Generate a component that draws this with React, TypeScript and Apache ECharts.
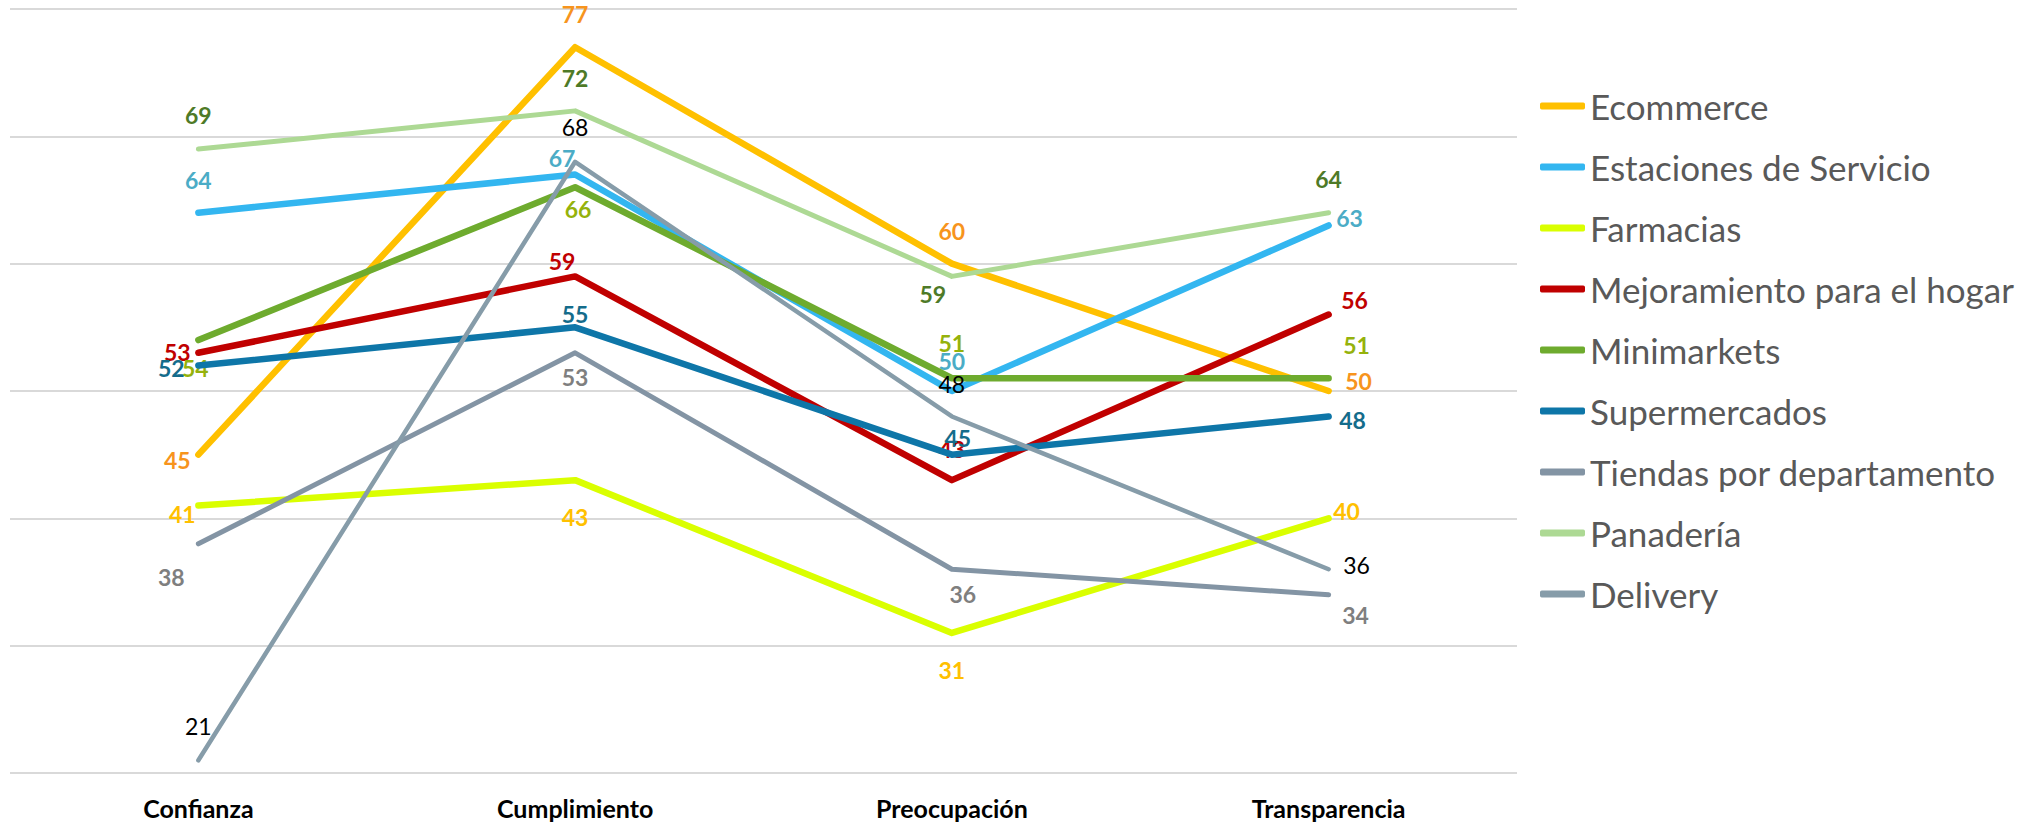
import React, { useEffect, useRef } from "react";
import * as echarts from "echarts";

const categories = ["Confianza", "Cumplimiento", "Preocupación", "Transparencia"];

const seriesNames = [
  "Ecommerce",
  "Estaciones de Servicio",
  "Farmacias",
  "Mejoramiento para el hogar",
  "Minimarkets",
  "Supermercados",
  "Tiendas por departamento",
  "Panadería",
  "Delivery",
];

const ecommerce = [45, 77, 60, 50];
const estaciones = [64, 67, 50, 63];
const farmacias = [41, 43, 31, 40];
const mejoramiento = [53, 59, 43, 56];
const minimarkets = [54, 66, 51, 51];
const supermercados = [52, 55, 45, 48];
const tiendas = [38, 53, 36, 34];
const panaderia = [69, 72, 59, 64];
const delivery = [21, 68, 48, 36];

const seriesValues = [
  ecommerce,
  estaciones,
  farmacias,
  mejoramiento,
  minimarkets,
  supermercados,
  tiendas,
  panaderia,
  delivery,
];

// styling (not data)
const lineColors = [
  "#FFC000",
  "#33B6F0",
  "#DAFF00",
  "#C00000",
  "#6EAB2E",
  "#0E76A8",
  "#8394A4",
  "#ADD994",
  "#869CA9",
];
const lineWidths = [6.5, 6.5, 6.5, 6.5, 6.5, 6.5, 5, 5, 4.5];
const labelColors = [
  "#F7941D",
  "#4BACC6",
  "#FFC000",
  "#C00000",
  "#95B20C",
  "#146C8B",
  "#7F7F7F",
  "#4E7A27",
  "#000000",
];
const labelWeights = ["bold", "bold", "bold", "bold", "bold", "bold", "bold", "bold", "normal"];

// label offsets [dx, dy] relative to the point, per series per category
const labelOffsets = [
  [[-21, 5], [0, -33], [0, -33], [30, -10]],
  [[0, -33], [-13, -17], [0, -30], [21, -7]],
  [[-16, 8], [0, 37], [0, 37], [18, -7]],
  [[-21, -1], [-13, -15], [0, -31], [26, -15]],
  [[-3, 28], [3, 22], [0, -35], [28, -33]],
  [[-27, 2], [0, -13], [6, -17], [24, 4]],
  [[-27, 33], [0, 24], [11, 25], [27, 20]],
  [[0, -34], [0, -33], [-19, 18], [0, -34]],
  [[0, -34], [0, -35], [0, -32], [28, -4]],
];

const FONT = "Lato, 'Noto Sans', sans-serif";

export default function App() {
  const ref = useRef<HTMLDivElement>(null);

  useEffect(() => {
    if (!ref.current) return;
    const chart = echarts.init(ref.current, null, { renderer: "svg" });

    const series = seriesNames.map((name, i) => ({
      name,
      type: "line",
      symbol: "circle",
      symbolSize: 1,
      showSymbol: true,
      z: 2 + i,
      lineStyle: { color: lineColors[i], width: lineWidths[i], cap: "round", join: "round" },
      itemStyle: { color: lineColors[i] },
      emphasis: { disabled: true },
      data: seriesValues[i].map((v, j) => ({
        value: v,
        label: { offset: labelOffsets[i][j] },
      })),
      label: {
        show: true,
        position: "inside",
        color: labelColors[i],
        fontWeight: labelWeights[i],
        fontSize: 23,
        fontFamily: FONT,
      },
    }));

    chart.setOption({
      animation: false,
      backgroundColor: "#ffffff",
      grid: { left: 10, right: 525, top: 9, bottom: 52, containLabel: false, outerBoundsMode: "none" },
      legend: {
        orient: "vertical",
        left: 1535,
        top: 81,
        icon: "roundRect",
        itemWidth: 45,
        itemHeight: 7,
        itemGap: 21,
        data: seriesNames,
        textStyle: { color: "#595959", fontSize: 35, fontFamily: FONT, lineHeight: 40 },
        selectedMode: false,
      },
      xAxis: {
        type: "category",
        data: categories,
        boundaryGap: true,
        axisLine: { show: false },
        axisTick: { show: false },
        axisLabel: {
          color: "#000000",
          fontWeight: "bold",
          fontSize: 25,
          fontFamily: FONT,
          margin: 22,
        },
      },
      yAxis: {
        type: "value",
        min: 20,
        max: 80,
        interval: 10,
        axisLabel: { show: false },
        axisLine: { show: false },
        axisTick: { show: false },
        splitLine: { lineStyle: { color: "#D9D9D9", width: 2 } },
      },
      series,
    });

    return () => chart.dispose();
  }, []);

  return (
    <div
      ref={ref}
      style={{ position: "fixed", left: 0, top: 0, width: 2042, height: 825 }}
    />
  );
}
